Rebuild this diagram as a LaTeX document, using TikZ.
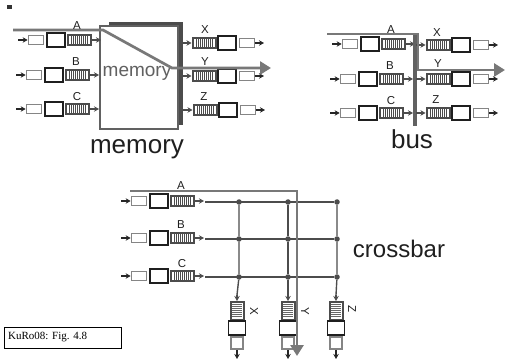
\documentclass[tikz,border=0pt]{standalone}
\usepackage{fontspec}
\setmainfont{Liberation Sans}
\usetikzlibrary{arrows.meta}
\definecolor{route}{gray}{0.47}
\definecolor{qdark}{gray}{0.3}
\definecolor{lightb}{gray}{0.52}
\tikzset{
  x=1pt,y=-1pt,
  lightbox/.style={draw=lightb,line width=1.7pt,fill=white,inner sep=0pt,minimum width=15pt,minimum height=9pt},
  blackbox/.style={draw=black!88,line width=1.9pt,fill=white,inner sep=0pt,minimum width=18pt,minimum height=14pt},
  hqueue/.style={draw=qdark,line width=2pt,fill=white,inner sep=0pt,minimum width=23pt,minimum height=10pt,
    path picture={\foreach \i in {-8,-6,...,8}{\fill[qdark] ([xshift=\i pt,yshift=-4pt]path picture bounding box.center) rectangle +(1.1pt,8pt);}}},
  vqueue/.style={draw=qdark,line width=2pt,fill=white,inner sep=0pt,minimum width=13pt,minimum height=18pt,
    path picture={\foreach \i in {-6,-4,...,6}{\fill[qdark!85] ([xshift=-5pt,yshift=\i pt]path picture bounding box.center) rectangle +(10pt,1.1pt);}}},
  vlight/.style={lightbox,minimum width=12pt,minimum height=12pt},
  vblack/.style={blackbox,minimum width=17pt,minimum height=14pt},
  stub/.style={draw=black!85,line width=1.1pt,-{Stealth[length=5pt,width=5.5pt]}},
  gstub/.style={draw=qdark,line width=1.1pt,-{Stealth[length=5pt,width=5.5pt]}},
  route/.style={draw=route,line width=2.7pt},
  routearrow/.style={route,-{Triangle[length=11pt,width=13pt]}},
  wire/.style={draw=qdark,line width=1.4pt},
  dot/.style={circle,fill=qdark,inner sep=0pt,minimum size=5.5pt},
  portlabel/.style={font=\fontsize{11.5}{12}\selectfont,text=black!88,inner sep=0pt},
  caption/.style={font=\fontsize{26}{28}\selectfont,text=black!88,inner sep=0pt},
}
\newcommand{\inport}[3]{%
  \coordinate (#1s) at (#2,#3);
  \node[lightbox] (#1l) at (#2+18,#3) {};
  \node[blackbox] (#1b) at (#2+38,#3) {};
  \node[hqueue] (#1q) at (#2+61,#3) {};
  \coordinate (#1e) at (#2+83,#3);
  \draw[stub] (#1s) -- (#1l);
  \draw[gstub] (#1q) -- (#1e);
}
\newcommand{\outport}[3]{%
  \coordinate (#1s) at (#2,#3);
  \node[hqueue] (#1q) at (#2+22,#3) {};
  \node[blackbox] (#1b) at (#2+45,#3) {};
  \node[lightbox] (#1l) at (#2+65,#3) {};
  \coordinate (#1e) at (#2+82,#3);
  \draw[gstub] (#1s) -- (#1q);
  \draw[stub] (#1l) -- (#1e);
}
\newcommand{\downport}[3]{%
  \coordinate (#1s) at (#2,#3);
  \node[vqueue] (#1q) at (#2,#3+16) {};
  \node[vblack] (#1b) at (#2,#3+33) {};
  \node[vlight] (#1l) at (#2,#3+48) {};
  \coordinate (#1e) at (#2,#3+64);
  \draw[gstub] (#1s) -- (#1q);
  \draw[stub] (#1l) -- (#1e);
}
\begin{document}
\begin{tikzpicture}
\useasboundingbox (0,0) rectangle (505,363);
\fill[black!80] (7,5) rectangle (12,9);
% memory
\fill[black!70] (109,22) rectangle (183,26);
\fill[black!70] (178,22) rectangle (183,125);
\node[draw=black!62,line width=1.7pt,fill=white,minimum width=78pt,minimum height=103pt,inner sep=0pt] (mem) at (139,77.5) {};
\node[font=\fontsize{19}{20}\selectfont,text=black!62,inner sep=0pt] (memt) at (137,73) {memory};
\inport{ma}{18}{40}
\inport{mb}{16}{75}
\inport{mc}{16}{109}
\outport{mx}{182}{43}
\outport{my}{182}{76}
\outport{mz}{183}{110}
\coordinate (m1) at (13,30);
\coordinate (m2) at (103,30);
\coordinate (m3) at (172,68);
\coordinate (m4) at (271,68);
\draw[routearrow] (m1) -- (m2) -- (m3) -- (m4);
\node[portlabel] (lma) at (77,26) {A};
\node[portlabel] (lmb) at (76,62) {B};
\node[portlabel] (lmc) at (77,97) {C};
\node[portlabel] (lmx) at (205,30) {X};
\node[portlabel] (lmy) at (205,62) {Y};
\node[portlabel] (lmz) at (204,97) {Z};
\node[caption] (capm) at (137,149) {memory};
% bus
\inport{ba}{332}{44}
\inport{bb}{330}{79}
\inport{bc}{330}{113}
\coordinate (bt) at (415,34);
\coordinate (bbm) at (415,126);
\draw[draw=black!62,line width=3.8pt] (bt) -- (bbm);
\outport{bx}{416}{45}
\outport{by}{416}{79}
\outport{bz}{416}{113}
\coordinate (b1) at (327,34);
\coordinate (b2) at (418,34);
\coordinate (b3) at (418,70);
\coordinate (b4) at (505,70);
\draw[routearrow] (b1) -- (b2) -- (b3) -- (b4);
\node[portlabel] (lba) at (391,30) {A};
\node[portlabel] (lbb) at (390,66) {B};
\node[portlabel] (lbc) at (391,101) {C};
\node[portlabel] (lbx) at (437,33) {X};
\node[portlabel] (lby) at (438,64) {Y};
\node[portlabel] (lbz) at (436,100) {Z};
\node[caption] (capb) at (412,139) {bus};
% crossbar
\inport{ca}{121}{201}
\inport{cb}{121}{238}
\inport{cc}{121}{276}
\foreach \r/\y in {a/202,b/239,c/277}{
  \coordinate (g\r s) at (205,\y);
  \node[dot] (g\r x) at (239,\y) {};
  \node[dot] (g\r y) at (288,\y) {};
  \node[dot] (g\r z) at (337,\y) {};
  \draw[wire] (g\r s) -- (g\r z);
}
\downport{cx}{237}{295}
\downport{cy}{288}{295}
\downport{cz}{336}{295}
\draw[wire] (gax) -- (gbx) -- (gcx) -- (cxs);
\draw[wire] (gay) -- (gby) -- (gcy) -- (cys);
\draw[wire] (gaz) -- (gbz) -- (gcz) -- (czs);
\coordinate (c1) at (130,191);
\coordinate (c2) at (297,191);
\coordinate (c3) at (297,356);
\draw[routearrow] (c1) -- (c2) -- (c3);
\node[portlabel] (lca) at (181,186) {A};
\node[portlabel] (lcb) at (181,225) {B};
\node[portlabel] (lcc) at (182,264) {C};
\node[portlabel,rotate=-90] (lcx) at (254,311) {X};
\node[portlabel,rotate=-90] (lcy) at (305,311) {Y};
\node[portlabel,rotate=-90] (lcz) at (352,309) {Z};
\node[font=\fontsize{24}{26}\selectfont,text=black!88,inner sep=0pt] (capc) at (399,249) {crossbar};
% citation
\node[draw=black,line width=0.7pt,fill=white,minimum width=117pt,minimum height=21pt,inner sep=0pt] (cite) at (62.5,337.5) {};
\node[font=\fontsize{11}{12}\selectfont,inner sep=0pt,anchor=west] (citet) at (8,337.5) {\fontspec{Liberation Serif}KuRo08: Fig. 4.8};
\end{tikzpicture}
\end{document}
